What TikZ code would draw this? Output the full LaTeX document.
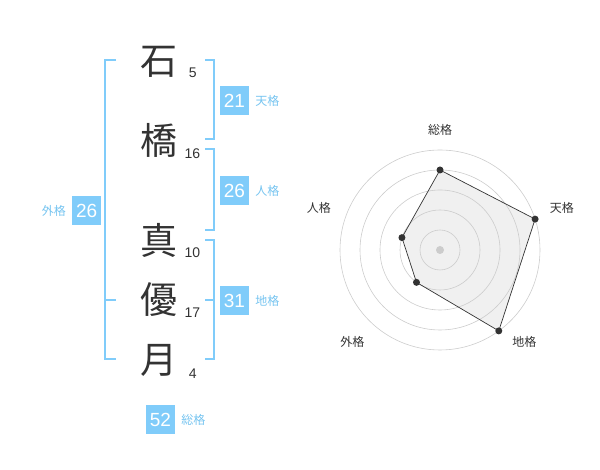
\documentclass[tikz,border=0pt]{standalone}
\usepackage{fontspec}
\usetikzlibrary{positioning}
\setmainfont{Liberation Sans}
\newfontfamily\jpfont{Noto Sans CJK JP}
\definecolor{kakublue}{RGB}{128,204,250}
\definecolor{kakutext}{RGB}{118,196,240}
\definecolor{inkgrey}{RGB}{51,51,51}
\begin{document}
\begin{tikzpicture}[x=1pt, y=1pt,
                    kanji/.style = {font=\jpfont\fontsize{37}{37}\selectfont,
                                    text=inkgrey,
                                    inner sep=0pt},
                    strokes/.style = {font=\fontsize{14}{14}\selectfont,
                                      text=inkgrey,
                                      inner sep=0pt},
                    kbox/.style = {fill=kakublue,
                                   text=white,
                                   minimum size=29pt,
                                   inner sep=0pt,
                                   font=\fontsize{19}{19}\selectfont},
                    klabel/.style = {text=kakutext,
                                     font=\jpfont\fontsize{12}{12}\selectfont,
                                     inner sep=0pt},
                    bracket/.style = {draw=kakublue, line width=2pt},
                    kakuring/.style = {draw=black!20, line width=0.6pt},
                    axislabel/.style = {text=inkgrey,
                                        font=\jpfont\fontsize{12}{12}\selectfont,
                                        inner sep=0pt},
                    dot/.style = {shape=circle, fill=inkgrey, inner sep=0pt, minimum size=7pt}]
	\useasboundingbox (0,0) rectangle (600,470);
	% name
	\node[kanji] (ishi) at (159.3,408.3) {石};
	\node[kanji] (hashi) at (159.3,330) {橋};
	\node[kanji] (ma) at (159.3,230) {真};
	\node[kanji] (yuu) at (159.3,170) {優};
	\node[kanji] (tsuki) at (159.3,110) {月};
	\node[strokes] (n1) at (192.7,397.3) {5};
	\node[strokes] (n2) at (192.3,316.7) {16};
	\node[strokes] (n3) at (192.3,217.3) {10};
	\node[strokes] (n4) at (192.3,157.3) {17};
	\node[strokes] (n5) at (192.7,96.7) {4};
	% brackets
	\draw[bracket] (116,410) -- (105,410) -- (105,110.7) -- (116,110.7);
	\draw[bracket] (105,170) -- (116,170);
	\draw[bracket] (205,410) -- (214.3,410) -- (214.3,330.7) -- (205,330.7);
	\draw[bracket] (205,320.7) -- (214.3,320.7) -- (214.3,240) -- (205,240);
	\draw[bracket] (205,230) -- (214.3,230) -- (214.3,110.7) -- (205,110.7);
	\draw[bracket] (205,170) -- (214.3,170);
	% kaku
	\node[kbox] (gaibox) at (86.7,259.5) {26};
	\node[klabel, left=6pt of gaibox] (gai) {外格};
	\node[kbox] (tenbox) at (234.5,369.5) {21};
	\node[klabel, right=6pt of tenbox] (ten) {天格};
	\node[kbox] (jinbox) at (234.5,279.5) {26};
	\node[klabel, right=6pt of jinbox] (jin) {人格};
	\node[kbox] (chibox) at (234.5,169.5) {31};
	\node[klabel, right=6pt of chibox] (chi) {地格};
	\node[kbox] (soubox) at (160.5,50.5) {52};
	\node[klabel, right=6pt of soubox] (sou) {総格};
	% radar
	\begin{scope}[shift={(440,220)}]
		\coordinate (p1) at (90:80);
		\coordinate (p2) at (18:100);
		\coordinate (p3) at (-54:100);
		\coordinate (p4) at (-126:40);
		\coordinate (p5) at (162:40);
		\fill[black!6] (p1) -- (p2) -- (p3) -- (p4) -- (p5) -- cycle;
		\draw[kakuring] (0,0) circle (20);
		\draw[kakuring] (0,0) circle (40);
		\draw[kakuring] (0,0) circle (60);
		\draw[kakuring] (0,0) circle (80);
		\draw[kakuring] (0,0) circle (100);
		\fill[black!20] (0,0) circle (4);
		\draw[draw=inkgrey, line width=0.7pt] (p1) -- (p2) -- (p3) -- (p4) -- (p5) -- cycle;
		\node[dot] (d1) at (p1) {};
		\node[dot] (d2) at (p2) {};
		\node[dot] (d3) at (p3) {};
		\node[dot] (d4) at (p4) {};
		\node[dot] (d5) at (p5) {};
		\node[axislabel] (a1) at (90:120) {総格};
		\node[axislabel] (a2) at (19:129) {天格};
		\node[axislabel] (a3) at (-47.6:125) {地格};
		\node[axislabel] (a4) at (-133.7:127) {外格};
		\node[axislabel] (a5) at (161:128) {人格};
	\end{scope}
\end{tikzpicture}
\end{document}
